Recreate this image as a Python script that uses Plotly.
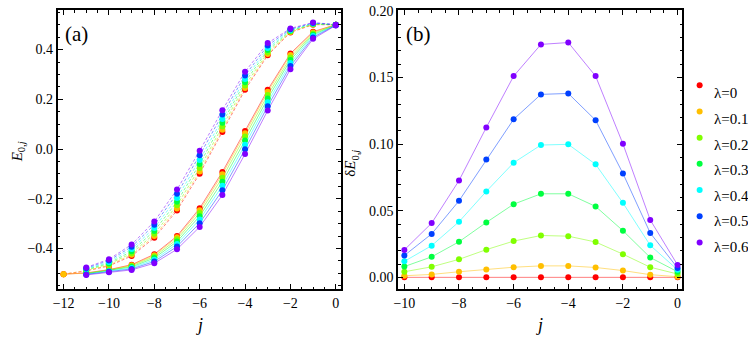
import plotly.graph_objects as go

# ---------------- data ----------------
lambdas = ["0", "0.1", "0.2", "0.3", "0.4", "0.5", "0.6"]
colors = ["#ff0000", "#ffbf00", "#80ff00", "#00ff40", "#00ffff", "#0040ff", "#8000ff"]
line_colors = ["rgba(255,0,0,0.5)", "rgba(255,191,0,0.5)", "rgba(128,255,0,0.5)",
               "rgba(0,255,64,0.5)", "rgba(0,255,255,0.5)", "rgba(0,64,255,0.5)",
               "rgba(128,0,255,0.5)"]

# panel (a): j values (first two series start at j=-12)
j_a_long = [-12, -11, -10, -9, -8, -7, -6, -5, -4, -3, -2, -1, 0]
j_a_short = [-11, -10, -9, -8, -7, -6, -5, -4, -3, -2, -1, 0]

# solid curves E_{0,j}
solid_0 = [-0.503, -0.498, -0.485, -0.465, -0.423, -0.350, -0.238, -0.092, 0.073, 0.238, 0.384, 0.472, 0.500]
solid_1 = [-0.503, -0.499, -0.486, -0.467, -0.427, -0.355, -0.246, -0.101, 0.064, 0.230, 0.378, 0.469, 0.500]
solid_2 = [-0.500, -0.488, -0.470, -0.432, -0.363, -0.257, -0.115, 0.050, 0.217, 0.368, 0.465, 0.499]
solid_3 = [-0.501, -0.489, -0.474, -0.438, -0.372, -0.270, -0.131, 0.034, 0.203, 0.358, 0.460, 0.499]
solid_4 = [-0.503, -0.491, -0.478, -0.445, -0.382, -0.283, -0.148, 0.017, 0.188, 0.346, 0.455, 0.498]
solid_5 = [-0.504, -0.493, -0.482, -0.452, -0.392, -0.298, -0.166, -0.001, 0.172, 0.334, 0.449, 0.498]
solid_6 = [-0.506, -0.495, -0.486, -0.459, -0.403, -0.313, -0.185, -0.020, 0.155, 0.321, 0.443, 0.497]

# dashed curves
dash_0 = [-0.503, -0.490, -0.470, -0.430, -0.357, -0.247, -0.099, 0.069, 0.238, 0.377, 0.469, 0.500, 0.500]
dash_1 = [-0.503, -0.489, -0.467, -0.425, -0.350, -0.239, -0.090, 0.078, 0.245, 0.382, 0.471, 0.501, 0.500]
dash_2 = [-0.487, -0.463, -0.419, -0.341, -0.226, -0.076, 0.091, 0.256, 0.389, 0.473, 0.502, 0.500]
dash_3 = [-0.484, -0.459, -0.411, -0.329, -0.212, -0.060, 0.106, 0.269, 0.398, 0.476, 0.504, 0.500]
dash_4 = [-0.482, -0.454, -0.402, -0.317, -0.197, -0.044, 0.121, 0.282, 0.406, 0.479, 0.505, 0.500]
dash_5 = [-0.479, -0.448, -0.393, -0.304, -0.180, -0.025, 0.139, 0.296, 0.416, 0.482, 0.507, 0.500]
dash_6 = [-0.476, -0.443, -0.384, -0.291, -0.163, -0.007, 0.156, 0.311, 0.426, 0.485, 0.509, 0.500]

solid_a = [solid_0, solid_1, solid_2, solid_3, solid_4, solid_5, solid_6]
dash_a = [dash_0, dash_1, dash_2, dash_3, dash_4, dash_5, dash_6]

# panel (b): delta E_{0,j}
j_b = [-10, -9, -8, -7, -6, -5, -4, -3, -2, -1, 0]
d_0 = [0, 0, 0, 0, 0, 0, 0, 0, 0, 0, 0]
d_1 = [0.0012, 0.0022, 0.0042, 0.0059, 0.0076, 0.0086, 0.0086, 0.0074, 0.0051, 0.0020, 0.0005]
d_2 = [0.0042, 0.0079, 0.0135, 0.0208, 0.0272, 0.0314, 0.0309, 0.0265, 0.0174, 0.0076, 0.0025]
d_3 = [0.0081, 0.0154, 0.0267, 0.0412, 0.0549, 0.0627, 0.0627, 0.0532, 0.0350, 0.0149, 0.0042]
d_4 = [0.0120, 0.0238, 0.0417, 0.0645, 0.0860, 0.0993, 0.0998, 0.0848, 0.0559, 0.0240, 0.0057]
d_5 = [0.0164, 0.0326, 0.0574, 0.0885, 0.1186, 0.1373, 0.1380, 0.1179, 0.0780, 0.0333, 0.0071]
d_6 = [0.0206, 0.0407, 0.0726, 0.1125, 0.1510, 0.1748, 0.1762, 0.1510, 0.1002, 0.0431, 0.0093]
d_b = [d_0, d_1, d_2, d_3, d_4, d_5, d_6]

xticks_a = [-12, -10, -8, -6, -4, -2, 0]
yticks_a = [-0.4, -0.2, 0.0, 0.2, 0.4]
xticks_b = [-10, -8, -6, -4, -2, 0]
yticks_b = [0.0, 0.05, 0.10, 0.15, 0.20]

# ---------------- figure ----------------
FONT = "Liberation Serif"
fig = go.Figure()

for i in range(7):
    xs = j_a_long if len(solid_a[i]) == 13 else j_a_short
    fig.add_trace(go.Scatter(x=xs, y=solid_a[i], mode="lines", xaxis="x", yaxis="y",
                             line=dict(color=line_colors[i], width=1), showlegend=False,
                             hoverinfo="skip"))
    xd = j_a_long if len(dash_a[i]) == 13 else j_a_short
    fig.add_trace(go.Scatter(x=xd, y=dash_a[i], mode="lines", xaxis="x", yaxis="y",
                             line=dict(color=line_colors[i], width=1, dash="3px,2px"),
                             showlegend=False, hoverinfo="skip"))
for i in range(7):
    xs = j_a_long if len(solid_a[i]) == 13 else j_a_short
    fig.add_trace(go.Scatter(x=xs, y=solid_a[i], mode="markers", xaxis="x", yaxis="y",
                             marker=dict(color=colors[i], size=6), showlegend=False))
    xd = j_a_long if len(dash_a[i]) == 13 else j_a_short
    fig.add_trace(go.Scatter(x=xd, y=dash_a[i], mode="markers", xaxis="x", yaxis="y",
                             marker=dict(color=colors[i], size=6), showlegend=False))

for i in range(7):
    fig.add_trace(go.Scatter(x=j_b, y=d_b[i], mode="lines", xaxis="x2", yaxis="y2",
                             line=dict(color=line_colors[i], width=1), showlegend=False,
                             hoverinfo="skip"))
for i in range(7):
    fig.add_trace(go.Scatter(x=j_b, y=d_b[i], mode="markers", xaxis="x2", yaxis="y2",
                             marker=dict(color=colors[i], size=6),
                             name=" ", legendgroup="g" + str(i),
                             showlegend=True))

axis_common = dict(showgrid=False, zeroline=False, showline=True, linecolor="black",
                   linewidth=2, mirror="ticks", ticks="inside", ticklen=5, tickwidth=1,
                   tickcolor="black", ticklabeloverflow="allow",
                   tickfont=dict(family=FONT, size=14, color="black"))

# legend labels as text next to the legend symbols
legend_annots = []
for i in range(7):
    legend_annots.append(dict(text="\u03bb=" + lambdas[i], x=712 / 748,
                              y=1 - (89 + 26 * i) / 341, xref="paper", yref="paper",
                              xanchor="left", yanchor="middle", showarrow=False,
                              font=dict(family=FONT, size=15, color="black")))

ydom = [0.155, 0.988]
fig.update_layout(
    width=748, height=341,
    margin=dict(l=0, r=0, t=0, b=0),
    paper_bgcolor="white", plot_bgcolor="white",
    xaxis=dict(domain=[0.0709, 0.4519], range=[-12.26, 0.22], tickvals=xticks_a,
               minor=dict(dtick=0.5, ticks="inside", ticklen=2.5, tickcolor="black"),
               anchor="y", **axis_common),
    yaxis=dict(domain=ydom, range=[-0.563, 0.559], tickvals=yticks_a, tickformat=".1f",
               minor=dict(dtick=0.05, ticks="inside", ticklen=2.5, tickcolor="black"),
               anchor="x", **axis_common),
    xaxis2=dict(domain=[0.5294, 0.9118], range=[-10.22, 0.18], tickvals=xticks_b,
                minor=dict(dtick=0.5, ticks="inside", ticklen=2.5, tickcolor="black"),
                anchor="y2", **axis_common),
    yaxis2=dict(domain=ydom, range=[-0.0088, 0.2006], tickvals=yticks_b, tickformat=".2f",
                minor=dict(dtick=0.01, ticks="inside", ticklen=2.5, tickcolor="black"),
                anchor="x2", **axis_common),
    legend=dict(x=0.908, y=0.81, xanchor="left", yanchor="top",
                font=dict(family=FONT, size=14, color="black"),
                tracegroupgap=5, itemwidth=30, borderwidth=0,
                bgcolor="rgba(0,0,0,0)"),
    annotations=[
        dict(text="(a)", x=58 / 748, y=1 - 29 / 341, xref="paper", yref="paper",
             xanchor="left", yanchor="middle", showarrow=False,
             font=dict(family=FONT, size=21, color="black")),
        dict(text="(b)", x=402 / 748, y=1 - 29 / 341, xref="paper", yref="paper",
             xanchor="left", yanchor="middle", showarrow=False,
             font=dict(family=FONT, size=21, color="black")),
        dict(text="<i>j</i>", x=196 / 748, y=1 - 325 / 341, xref="paper", yref="paper",
             xanchor="center", yanchor="middle", showarrow=False,
             font=dict(family=FONT, size=18, color="black")),
        dict(text="<i>j</i>", x=538 / 748, y=1 - 325 / 341, xref="paper", yref="paper",
             xanchor="center", yanchor="middle", showarrow=False,
             font=dict(family=FONT, size=18, color="black")),
        dict(text="<i>E</i><sub>0,<i>j</i></sub>", x=13 / 748, y=1 - 148 / 341,
             xref="paper", yref="paper", xanchor="center", yanchor="middle",
             showarrow=False, textangle=-90,
             font=dict(family=FONT, size=15, color="black")),
        dict(text="\u03b4<i>E</i><sub>0,<i>j</i></sub>", x=349 / 748, y=1 - 160 / 341,
             xref="paper", yref="paper", xanchor="center", yanchor="middle",
             showarrow=False, textangle=-90,
             font=dict(family=FONT, size=15, color="black")),
    ] + legend_annots,
)

fig.write_html("out.html", config={"displayModeBar": False},
               post_script="document.body.style.margin='0';document.body.style.overflow='hidden';")
